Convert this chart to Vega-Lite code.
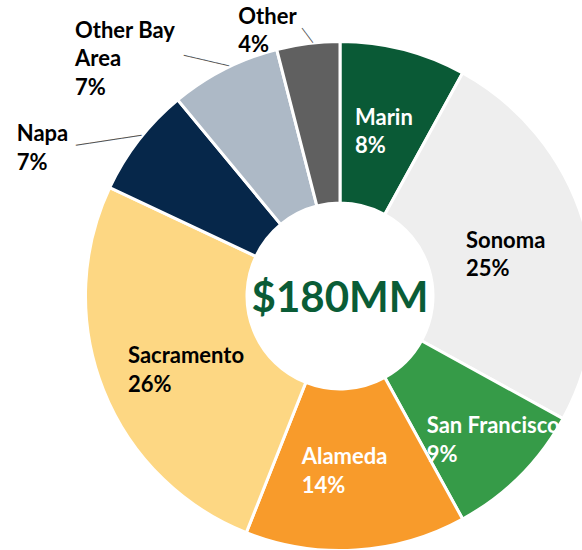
{
  "$schema": "https://vega.github.io/schema/vega-lite/v6.json",
  "width": 680,
  "height": 592,
  "padding": 0,
  "autosize": "none",
  "background": "white",
  "config": {"view": {"stroke": null}},
  "data": {
    "values": [
      {"region": "Marin", "share": 8, "ord": 1, "label": "Marin\n8%"},
      {"region": "Sonoma", "share": 25, "ord": 2, "label": "Sonoma\n25%"},
      {"region": "San Francisco", "share": 9, "ord": 3, "label": "San Francisco\n9%"},
      {"region": "Alameda", "share": 14, "ord": 4, "label": "Alameda\n14%"},
      {"region": "Sacramento", "share": 26, "ord": 5, "label": "Sacramento\n26%"},
      {"region": "Napa", "share": 7, "ord": 6, "label": "Napa\n7%"},
      {"region": "Other Bay Area", "share": 7, "ord": 7, "label": "Other Bay\nArea\n7%"},
      {"region": "Other", "share": 4, "ord": 8, "label": "Other\n4%"}
    ]
  },
  "layer": [
    {
      "encoding": {
        "theta": {"field": "share", "type": "quantitative", "stack": true},
        "order": {"field": "ord", "type": "quantitative"}
      },
      "layer": [
        {
          "mark": {"type": "arc", "outerRadius": 254.5, "innerRadius": 93, "stroke": "white", "strokeWidth": 3},
          "encoding": {
            "color": {
              "field": "region",
              "type": "nominal",
              "scale": {
                "domain": ["Marin", "Sonoma", "San Francisco", "Alameda", "Sacramento", "Napa", "Other Bay Area", "Other"],
                "range": ["#0a5a36", "#eeeeee", "#369b48", "#f89b2b", "#fdd783", "#06274a", "#adb9c6", "#606060"]
              },
              "legend": null
            }
          }
        },
        {
          "mark": {"type": "text", "radius": 174, "align": "left", "baseline": "middle", "dx": -28.3, "dy": -9.9, "font": "Lato", "fontWeight": "bold", "fontSize": 22, "lineHeight": 28.5, "lineBreak": "\n", "fill": "white"},
          "encoding": {"text": {"condition": {"test": "datum.region === 'Marin'", "field": "label"}, "value": ""}}
        },
        {
          "mark": {"type": "text", "radius": 174, "align": "left", "baseline": "middle", "dx": -41.1, "dy": -6.5, "font": "Lato", "fontWeight": "bold", "fontSize": 22, "lineHeight": 28.5, "lineBreak": "\n", "fill": "black"},
          "encoding": {"text": {"condition": {"test": "datum.region === 'Sonoma'", "field": "label"}, "value": ""}}
        },
        {
          "mark": {"type": "text", "radius": 174, "align": "left", "baseline": "middle", "dx": -36.3, "dy": 7, "font": "Lato", "fontWeight": "bold", "fontSize": 22, "lineHeight": 28.5, "lineBreak": "\n", "fill": "white"},
          "encoding": {"text": {"condition": {"test": "datum.region === 'San Francisco'", "field": "label"}, "value": ""}}
        },
        {
          "mark": {"type": "text", "radius": 174, "align": "left", "baseline": "middle", "dx": -49.2, "dy": -12.4, "font": "Lato", "fontWeight": "bold", "fontSize": 22, "lineHeight": 28.5, "lineBreak": "\n", "fill": "white"},
          "encoding": {"text": {"condition": {"test": "datum.region === 'Alameda'", "field": "label"}, "value": ""}}
        },
        {
          "mark": {"type": "text", "radius": 174, "align": "left", "baseline": "middle", "dx": -50.2, "dy": -4, "font": "Lato", "fontWeight": "bold", "fontSize": 22, "lineHeight": 28.5, "lineBreak": "\n", "fill": "black"},
          "encoding": {"text": {"condition": {"test": "datum.region === 'Sacramento'", "field": "label"}, "value": ""}}
        },
        {
          "mark": {"type": "text", "radius": 300, "align": "left", "baseline": "middle", "dx": -86.2, "dy": 22.2, "font": "Lato", "fontWeight": "bold", "fontSize": 22, "lineHeight": 28.5, "lineBreak": "\n", "fill": "black"},
          "encoding": {"text": {"condition": {"test": "datum.region === 'Napa'", "field": "label"}, "value": ""}}
        },
        {
          "mark": {"type": "text", "radius": 300, "align": "left", "baseline": "middle", "dx": -128.8, "dy": 2.3, "font": "Lato", "fontWeight": "bold", "fontSize": 22, "lineHeight": 28.5, "lineBreak": "\n", "fill": "black"},
          "encoding": {"text": {"condition": {"test": "datum.region === 'Other Bay Area'", "field": "label"}, "value": ""}}
        },
        {
          "mark": {"type": "text", "radius": 300, "align": "left", "baseline": "middle", "dx": -64.1, "dy": 18.2, "font": "Lato", "fontWeight": "bold", "fontSize": 22, "lineHeight": 28.5, "lineBreak": "\n", "fill": "black"},
          "encoding": {"text": {"condition": {"test": "datum.region === 'Other'", "field": "label"}, "value": ""}}
        },
        {
          "mark": {"type": "text", "radius": 278, "align": "center", "baseline": "middle", "angle": -8.7, "dx": -13.7, "dy": 13.5, "font": "DejaVu Sans Mono", "fontSize": 11, "fill": "#555555"},
          "encoding": {"text": {"condition": {"test": "datum.region === 'Napa'", "value": "──────────"}, "value": ""}}
        },
        {
          "mark": {"type": "text", "radius": 270, "align": "center", "baseline": "middle", "angle": 13.1, "dx": -9.5, "dy": 8.3, "font": "DejaVu Sans Mono", "fontSize": 11, "fill": "#555555"},
          "encoding": {"text": {"condition": {"test": "datum.region === 'Other Bay Area'", "value": "───────"}, "value": ""}}
        },
        {
          "mark": {"type": "text", "radius": 262.5, "align": "center", "baseline": "middle", "angle": 53.6, "font": "DejaVu Sans Mono", "fontSize": 10, "fill": "#555555"},
          "encoding": {"text": {"condition": {"test": "datum.region === 'Other'", "value": "───"}, "value": ""}}
        }
      ]
    },
    {
      "data": {"values": [{"total": "$180MM"}]},
      "mark": {"type": "text", "font": "Lato", "fontWeight": "bold", "fontSize": 42, "fill": "#0a5c36", "baseline": "middle", "align": "center", "dy": 3},
      "encoding": {"text": {"field": "total"}}
    }
  ]
}
